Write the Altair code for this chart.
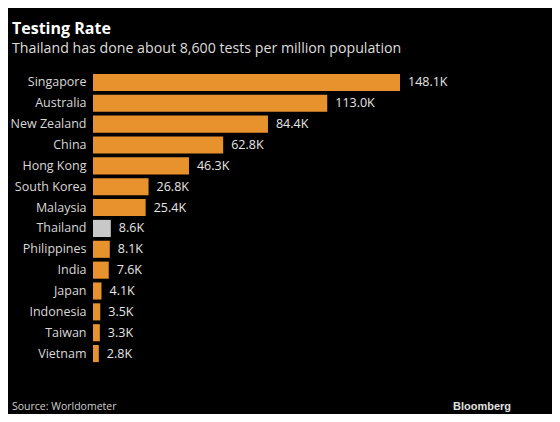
import altair as alt
import pandas as pd

countries = ["Singapore", "Australia", "New Zealand", "China", "Hong Kong", "South Korea",
             "Malaysia", "Thailand", "Philippines", "India", "Japan", "Indonesia", "Taiwan", "Vietnam"]
tests_k = [148.1, 113.0, 84.4, 62.8, 46.3, 26.8, 25.4, 8.6, 8.1, 7.6, 4.1, 3.5, 3.3, 2.8]
highlight = ["Thailand"]

df = pd.DataFrame({"country": countries, "value": tests_k})
df["hl"] = df["country"].isin(highlight).map({True: "yes", False: "no"})

FONT = "Open Sans"
W, H = 307, 292
PAD_L, PAD_T = 85, 64

base = alt.Chart(df)
y = alt.Y("country:N", sort=countries, title=None,
          scale=alt.Scale(paddingInner=0.18, paddingOuter=0.09),
          axis=alt.Axis(domain=False, ticks=False, labelPadding=7, labelFontSize=12.5,
                        labelColor="#d8d8d8", labelFont=FONT))
x = alt.X("value:Q", title=None, axis=None, scale=alt.Scale(domain=[0, 148.1], nice=False))

bars = base.mark_bar().encode(
    x=x, y=y,
    color=alt.Color("hl:N", scale=alt.Scale(domain=["no", "yes"], range=["#e8922e", "#c8c8c8"]), legend=None),
)
labels = base.transform_calculate(label="format(datum.value, '.1f') + 'K'").mark_text(
    align="left", dx=8, fontSize=12.5, color="#e6e6e6", font=FONT
).encode(x=x, y=y, text="label:N")

source = alt.Chart(pd.DataFrame({"t": ["Source: Worldometer"]})).mark_text(
    align="left", baseline="alphabetic", fontSize=10.5, color="#cfcfcf", font=FONT
).encode(x=alt.value(4 - PAD_L), y=alt.value(402 - PAD_T), text="t:N")
logo = alt.Chart(pd.DataFrame({"t": ["Bloomberg"]})).mark_text(
    align="right", baseline="alphabetic", fontSize=11, fontWeight="bold", color="#e0e0e0", font="Liberation Sans"
).encode(x=alt.value(503 - PAD_L), y=alt.value(402 - PAD_T), text="t:N")

chart = alt.layer(bars, labels, source, logo).properties(
    width=W, height=H,
    title=alt.TitleParams(
        text="Testing Rate",
        subtitle="Thailand has done about 8,600 tests per million population",
        anchor="start", frame="group", dx=4 - PAD_L, offset=16, font=FONT, fontSize=16, fontWeight="bold",
        color="#ffffff", subtitleFont=FONT, subtitleFontSize=14.2, subtitleColor="#dedede",
        subtitlePadding=5,
    ),
    autosize=alt.AutoSizeParams(type="none"),
    padding={"left": PAD_L, "top": PAD_T, "right": 544 - PAD_L - W, "bottom": 406 - PAD_T - H},
    background="#000000",
).configure_view(stroke=None)

chart.save("out.html", embed_options={"renderer": "svg", "actions": False})
